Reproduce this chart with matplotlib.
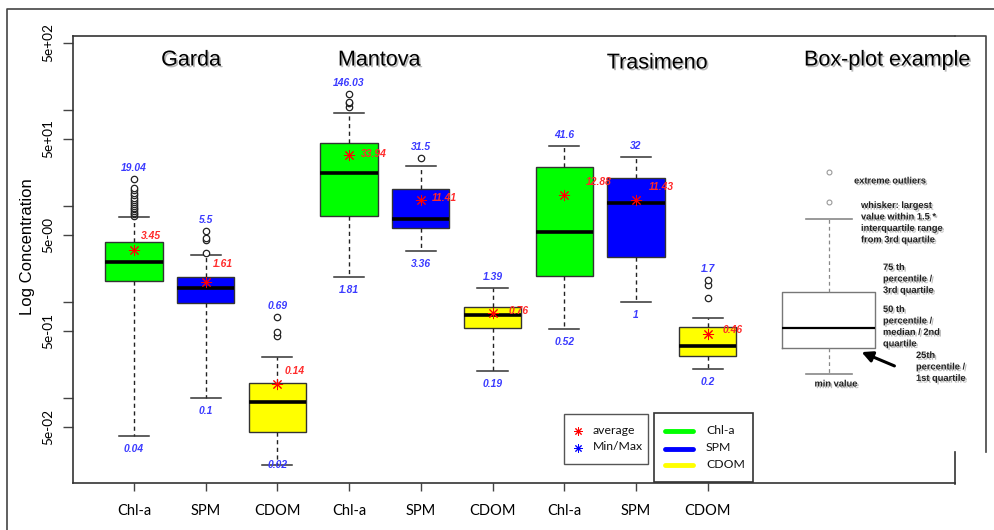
import matplotlib
matplotlib.use("Agg")
import matplotlib.pyplot as plt
import matplotlib.transforms as mtransforms
import matplotlib.patheffects as pe
from matplotlib.lines import Line2D
from matplotlib.patches import Rectangle, FancyArrowPatch
from matplotlib.ticker import NullLocator

# boxplot summaries, lake by lake: Chl-a, SPM, CDOM
lakes = ["Garda", "Mantova", "Trasimeno"]
params = ["Chl-a", "SPM", "CDOM"]
q1 = [1.66, 0.965, 0.0444, 7.9, 5.83, 0.53, 1.87, 2.95, 0.277]
med = [2.62, 1.40, 0.091, 22.1, 7.34, 0.73, 5.3, 10.8, 0.347]
q3 = [4.23, 1.83, 0.1436, 44.8, 15.1, 0.877, 25.5, 19.6, 0.55]
whis_hi = [7.6, 3.09, 0.268, 92, 26.2, 1.39, 41.6, 32, 0.678]
min_vals = [0.04, 0.1, 0.02, 1.81, 3.36, 0.19, 0.52, 1, 0.2]
max_vals = [19.04, 5.5, 0.69, 146.03, 31.5, 1.39, 41.6, 32, 1.7]
means = [3.45, 1.61, 0.14, 33.94, 11.41, 0.76, 12.88, 11.43, 0.46]
outliers = [
    [7.9, 8.2, 8.5, 8.8, 9.2, 9.6, 10.0, 10.5, 11.0, 11.6, 12.2, 12.9, 13.7, 14.5, 15.3, 19.04],
    [3.25, 4.4, 4.6, 5.5],
    [0.444, 0.489, 0.69],
    [108, 117, 121, 146.03],
    [31.5],
    [],
    [],
    [],
    [1.10, 1.52, 1.7],
]
box_colors = ["#00ff00", "#0000ff", "#ffff00"] * 3

# the illustrative box on the right
example_stats = dict(q1=0.328, med=0.53, q3=1.27, whislo=0.18, whishi=7.3, fliers=[11.0, 22.5])

W, H = 994, 530
fig = plt.figure(figsize=(W / 100, H / 100), dpi=100)
# pixel coordinates, origin top-left
px = mtransforms.Affine2D().scale(1 / W, -1 / H).translate(0, 1) + fig.transFigure

x0, x1, y0, y1 = 72.7, 955, 36, 483
ax = fig.add_axes([x0 / W, 1 - y1 / H, (x1 - x0) / W, (y1 - y0) / H])

positions = list(range(1, 10))
stats = []
for i in range(9):
    stats.append(dict(q1=q1[i], med=med[i], q3=q3[i], whislo=min_vals[i],
                      whishi=whis_hi[i], fliers=outliers[i], mean=means[i]))

bp = ax.bxp(stats, positions=positions, widths=0.8, patch_artist=True,
            showmeans=True, showfliers=True,
            boxprops=dict(edgecolor="#333333", linewidth=1),
            medianprops=dict(color="black", linewidth=2.6),
            whiskerprops=dict(color="#222222", linewidth=1, linestyle=(0, (3, 2.5))),
            capprops=dict(color="#333333", linewidth=1.1),
            capwidths=0.42,
            flierprops=dict(marker="o", markerfacecolor="white", markeredgecolor="#222222",
                            markersize=4.6, markeredgewidth=0.9),
            meanprops=dict(marker=(8, 2, 0), markeredgecolor="red", markerfacecolor="red",
                           markersize=8, markeredgewidth=0.7, linestyle="none"))
for patch, c in zip(bp["boxes"], box_colors):
    patch.set_facecolor(c)

# example box, drawn in grey
ex_pos = 10.69
ax.bxp([example_stats], positions=[ex_pos], widths=1.3, capwidths=0.65,
       boxprops=dict(color="#777777", linewidth=1),
       medianprops=dict(color="black", linewidth=1.6),
       whiskerprops=dict(color="#888888", linewidth=0.9, linestyle=(0, (3, 2.5))),
       capprops=dict(color="#888888", linewidth=1.2),
       flierprops=dict(marker="o", markerfacecolor="white", markeredgecolor="#999999",
                       markersize=3.5, markeredgewidth=0.8))

ax.set_yscale("log")
ax.set_ylim(0.01305, 587)
ax.set_xlim(0.145, 12.45)

yt = [0.05, 0.1, 0.5, 1, 5, 10, 50, 100, 500]
yl = ["5e-02", "", "5e-01", "", "5e-00", "", "5e+01", "", "5e+02"]
ax.set_yticks(yt)
ax.set_yticklabels(yl, rotation=90, va="center", family="Lato", fontsize=9.8)
ax.yaxis.set_minor_locator(NullLocator())
ax.set_xticks(positions)
ax.set_xticklabels(params * 3, family="Lato", fontsize=10.5)
ax.tick_params(axis="y", length=7, width=1, color="#444444", pad=6)
ax.tick_params(axis="x", length=6, width=1, color="#444444", pad=9)
for s in ax.spines.values():
    s.set_color("#333333")
    s.set_linewidth(1.2)
# the example panel sits over the upper part of the right edge
ax.spines["right"].set_visible(False)

# min / max and mean labels
lab_font = dict(family="Liberation Sans", fontsize=7.4, fontweight="bold", fontstyle="italic")
mean_offsets = [(17, 14), (17, 18), (17, 13), (25, 1), (24, 2), (26, 2), (35, 13), (25, 13), (25, 4)]
for i, p in enumerate(positions):
    ax.annotate(f"{max_vals[i]:g}", (p, max_vals[i]), xytext=(0, 11), textcoords="offset pixels",
                ha="center", va="center", color="#3a3aff", **lab_font)
    dy = -13 if min_vals[i] > 0.03 else 0
    ax.annotate(f"{min_vals[i]:g}", (p, min_vals[i]), xytext=(0, dy), textcoords="offset pixels",
                ha="center", va="center", color="#3a3aff", **lab_font)
    ox, oy = mean_offsets[i]
    ax.annotate(f"{means[i]:g}", (p, means[i]), xytext=(ox, oy), textcoords="offset pixels",
                ha="center", va="center", color="#ff2a2a", **lab_font)

shadow = [pe.SimplePatchShadow(offset=(1.2, -1.2), shadow_rgbFace="0.4", alpha=0.45), pe.Normal()]
titles = lakes + ["Box-plot example"]
title_xy = [(191, 60), (379, 60), (657, 63), (887, 60)]
for t, (tx, ty) in zip(titles, title_xy):
    fig.text(tx, ty, t, transform=px, ha="center", va="center", fontsize=15.5,
             family="Liberation Sans", path_effects=shadow)

fig.text(28, 247, "Log Concentration", transform=px, rotation=90, ha="center", va="center",
         fontsize=12, family="Liberation Sans")

# notes beside the example box
note_font = dict(family="Liberation Sans", fontsize=6.7, fontweight="bold", color="#222222",
                 linespacing=1.35, path_effects=shadow, transform=px)
fig.text(890, 181, "extreme outliers", ha="center", va="center", **note_font)
fig.text(861, 201, "whisker: largest\nvalue within 1.5 *\ninterquartile range\nfrom 3rd quartile",
         ha="left", va="top", **note_font)
fig.text(883, 263, "75 th\npercentile /\n3rd quartile", ha="left", va="top", **note_font)
fig.text(883, 305, "50 th\npercentile /\nmedian / 2nd\nquartile", ha="left", va="top", **note_font)
fig.text(916, 351, "25th\npercentile /\n1st quartile", ha="left", va="top", **note_font)
fig.text(836, 384, "min value", ha="center", va="center", **note_font)
fig.add_artist(FancyArrowPatch((897, 367), (859, 351), transform=px, arrowstyle="-|>",
                               mutation_scale=16, linewidth=2.2, color="black"))

# frames
fig.add_artist(Line2D([7, 7, W], [H, 9, 9], transform=px, color="#444444", linewidth=1.2))
fig.add_artist(Line2D([955, 986, 986], [36, 36, 452], transform=px, color="#444444", linewidth=1.2))
fig.add_artist(Line2D([955, 955], [452, 483.5], transform=px, color="#333333", linewidth=1.2))

# legends
leg_font = dict(family="Lato", fontsize=8.8, color="#111111", transform=px, va="center")
fig.add_artist(Rectangle((564, 414), 84, 50, transform=px, facecolor="white",
                         edgecolor="#555555", linewidth=1))
for yy, c, t in [(431, "red", "average"), (448, "blue", "Min/Max")]:
    fig.add_artist(Line2D([578], [yy], transform=px, marker=(8, 2, 0), color=c,
                          markersize=6, markeredgewidth=0.7, linestyle="none"))
    fig.text(593, yy - 1, t, ha="left", **leg_font)
fig.add_artist(Rectangle((654, 413), 99, 69, transform=px, facecolor="white",
                         edgecolor="#333333", linewidth=1.2))
for yy, c, t in [(431, "#00ff00", "Chl-a"), (448.5, "#0000ff", "SPM"), (465, "#ffff00", "CDOM")]:
    fig.add_artist(Line2D([665, 693], [yy, yy], transform=px, color=c, linewidth=3.5,
                          solid_capstyle="round"))
    fig.text(706, yy - 1, t, ha="left", **leg_font)

fig.savefig("out.png", dpi=100)
